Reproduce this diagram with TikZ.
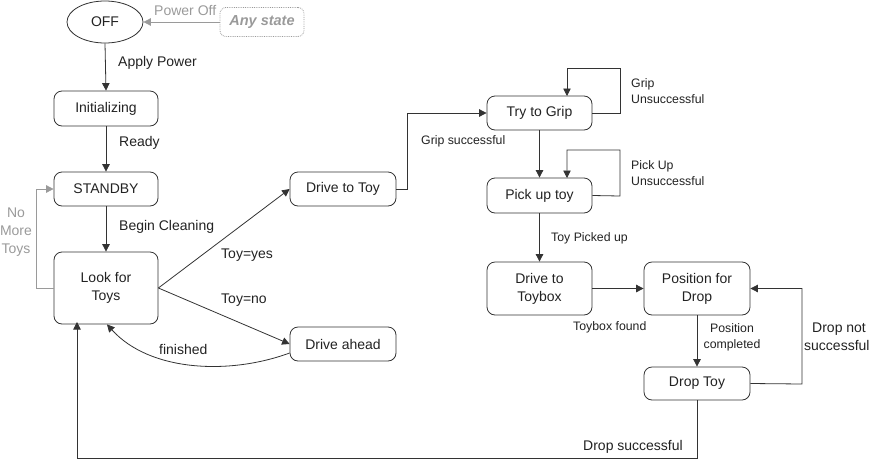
\documentclass[tikz,border=0pt]{standalone}
\usepackage{fontspec}
\setmainfont{Liberation Sans}
\usetikzlibrary{arrows.meta,positioning,shapes.geometric}
\definecolor{ln}{HTML}{333333}
\definecolor{tx}{HTML}{222222}
\definecolor{gr}{HTML}{9A9A9A}
\begin{document}
\begin{tikzpicture}[x=1pt,y=-1pt,
  every node/.style={font=\fontsize{14}{18}\selectfont, text=tx},
  state/.style={draw=ln, line width=0.8pt, rounded corners=8pt, inner sep=0pt, align=center},
  lbl/.style={inner sep=0pt, anchor=west, align=left},
  small/.style={font=\fontsize{12.3}{16}\selectfont},
  arr/.style={draw=ln, line width=0.8pt, -{Triangle[length=7.5pt,width=7.5pt]}},
  garr/.style={draw=gr, line width=0.8pt, -{Triangle[length=7.5pt,width=7.5pt]}}
]
\useasboundingbox (0,0) rectangle (875,461);
% nodes
\node[draw=ln, line width=0.8pt, ellipse, minimum width=76pt, minimum height=42pt, inner sep=0pt] (off) at (105,22) {OFF};
\node[draw=gr, densely dotted, line width=0.8pt, rounded corners=6pt, minimum width=84pt, minimum height=29pt, inner sep=0pt, text=gr, font=\fontsize{14.5}{16}\selectfont\bfseries\itshape] (any) at (262,22) {Any state};
\node[state, minimum width=104pt, minimum height=35pt] (init) at (106,108.5) {Initializing};
\node[state, minimum width=104pt, minimum height=34pt] (stby) at (106,189) {STANDBY};
\node[state, minimum width=104pt, minimum height=72pt] (look) at (106,288) {Look for\\Toys};
\node[state, minimum width=106pt, minimum height=34pt] (dtoy) at (343,189) {Drive to Toy};
\node[state, minimum width=106pt, minimum height=34pt] (dahead) at (343,344) {Drive ahead};
\node[state, minimum width=105pt, minimum height=34pt] (grip) at (539.5,113) {Try to Grip};
\node[state, minimum width=105pt, minimum height=35pt] (pick) at (539.5,195.5) {Pick up toy};
\node[state, minimum width=105pt, minimum height=53pt] (dbox) at (539.5,288.5) {Drive to\\Toybox};
\node[state, minimum width=106pt, minimum height=53pt] (pos) at (697,288.5) {Position for\\Drop};
\node[state, minimum width=106pt, minimum height=33pt] (drop) at (697,383.5) {Drop Toy};
\coordinate (c1) at (36,288);
\coordinate (c2) at (36,189);
% connectors
\draw[garr] (any.west) -- (off.east);
\node[lbl, text=gr] (lpoff) at (154,11) {Power Off};
\draw[arr] (off.south) -- (init.north);
\node[lbl] (lapply) at (118,63) {Apply Power};
\draw[arr] (init.south) -- (stby.north);
\node[lbl] (lready) at (119,143) {Ready};
\draw[arr] (stby.south) -- (look.north);
\node[lbl] (lbegin) at (119,227) {Begin Cleaning};
\draw[garr] (look.west) -- (c1) -- (c2) -- (stby.west);
\node[inner sep=0pt, text=gr, align=center] (lnomore) at (16,232) {No\\More\\Toys};
\draw[arr] (look.east) -- (dtoy.west);
\node[lbl] (lyes) at (221,255) {Toy=yes};
\draw[arr] (look.east) -- (dahead.west);
\node[lbl] (lno) at (221,300) {Toy=no};
\draw[arr] ([yshift=-9pt]dahead.west) .. controls (230,375) and (150,372) .. ([xshift=1pt]look.south);
\node[lbl] (lfin) at (159,349) {finished};
\draw[arr] (dtoy.east) -- (407,189) |- (grip.west);
\node[lbl, small] (lgs) at (421,141) {Grip successful};
\draw[arr] (grip.east) -- (620,113) |- (567,68) -- (567,96);
\node[lbl, small] (lgu) at (631,91) {Grip\\Unsuccessful};
\draw[arr] (grip.south) -- (pick.north);
\draw[arr] (pick.east) -- (620,196) |- (567,150) -- (567,178);
\node[lbl, small] (lpu) at (631,173.5) {Pick Up\\Unsuccessful};
\draw[arr] (pick.south) -- (dbox.north);
\node[lbl, small] (ltp) at (551,238) {Toy Picked up};
\draw[arr] (dbox.east) -- (pos.west);
\node[lbl, small] (ltf) at (573,327) {Toybox found};
\draw[arr] (pos.south) -- (drop.north);
\node[inner sep=0pt, align=center, small] (lpc) at (732,337) {Position\\completed};
\draw[arr] (drop.east) -- (802,384) |- (pos.east);
\node[lbl] (ldns) at (804,336.5) {\hspace{8pt}Drop not\\successful};
\draw[arr] (drop.south) -- (697,458) -| (77,322);
\node[lbl] (lds) at (583,447) {Drop successful};
\end{tikzpicture}
\end{document}
